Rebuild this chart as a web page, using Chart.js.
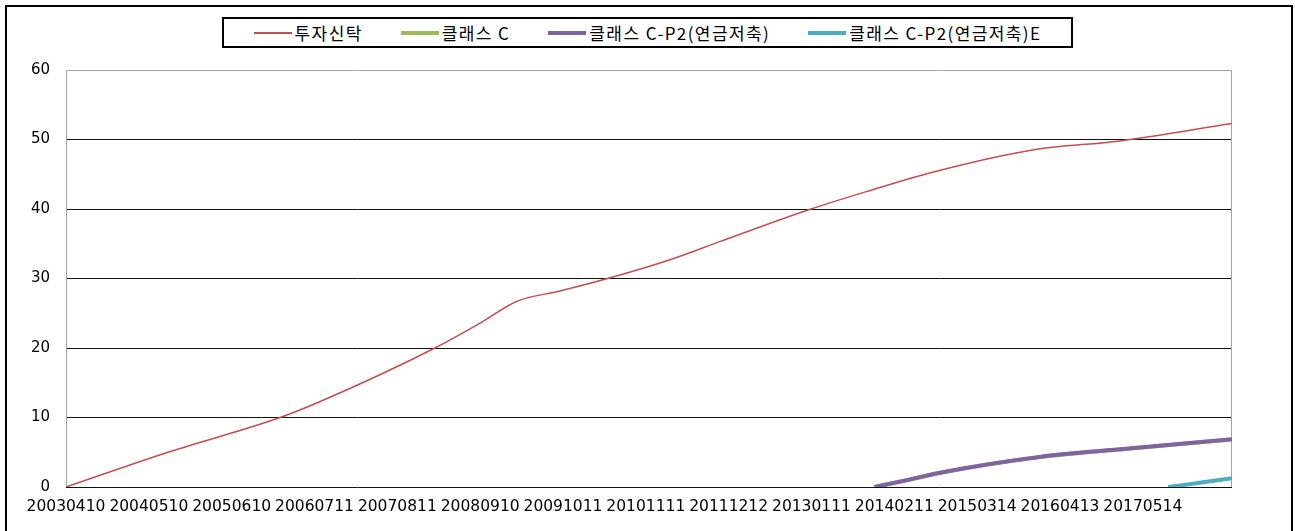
<!DOCTYPE html>
<html>
<head>
<meta charset="utf-8">
<script src="https://cdn.jsdelivr.net/npm/chart.js@4.4.1/dist/chart.umd.min.js"></script>
<style>
  html, body { margin: 0; padding: 0; background: #fff; overflow: hidden; }
  #wrap { position: relative; width: 1295px; height: 531px; }
  #frame { position: absolute; left: 5px; top: 5px; width: 1284px; height: 560px; border: 2px solid #000; }
  #chart { position: absolute; left: 0; top: 0; }
  #legend {
    position: absolute; left: 222px; top: 17px; width: 847px; height: 27px;
    border: 2px solid #000; background: #fff;
    display: flex; justify-content: center; align-items: center; gap: 38px;
    font: 17px "Noto Sans CJK KR", sans-serif; letter-spacing: 1.4px; color: #000;
  }
  .item { display: flex; align-items: center; white-space: pre; }
  .swatch { width: 38px; margin-right: 3px; }
</style>
</head>
<body>
<div id="wrap">
  <div id="frame"></div>
  <canvas id="chart" width="1295" height="531"></canvas>
  <div id="legend"></div>
</div>
<script>
// x = months since 2003-04, y = value
const seriesNames = ["투자신탁", "클래스 C", "클래스 C-P2(연금저축)", "클래스 C-P2(연금저축)E"];
const seriesColors = ["#C0504D", "#9BBB59", "#8064A2", "#4BACC6"];

const tickPos = [0, 13, 26, 39, 52, 65, 78, 91, 104, 117, 130, 143, 156, 169];
const tickLabels = ["20030410", "20040510", "20050610", "20060711", "20070811", "20080910", "20091011",
  "20101111", "20111212", "20130111", "20140211", "20150314", "20160413", "20170514"];

const trustX = [0, 16, 33.6, 39.9, 57.9, 65.4, 70.7, 77.5, 85, 94.8, 102.6, 116.9, 125.6, 136, 151.7, 165.4, 183];
const trustY = [0, 5.0, 10, 12.3, 20, 23.8, 26.7, 28.2, 30, 32.7, 35.3, 40, 42.5, 45.3, 48.5, 49.8, 52.3];

const classCX = [126.9, 131.9, 137.1, 152.8, 168.5, 183];
const classCY = [0, 0.95, 2.0, 4.3, 5.65, 6.85];

const pensionX = [126.9, 131.9, 137.1, 152.8, 168.5, 183];
const pensionY = [0, 0.97, 2.06, 4.33, 5.67, 6.88];

const pensionEX = [173, 177.9, 183];
const pensionEY = [0, 0.6, 1.25];

function pts(xs, ys) {
  return xs.map((x, i) => ({ x: x, y: ys[i] }));
}

// gray border on left/top/right of plot area
const plotBorder = {
  id: "plotBorder",
  beforeDatasetsDraw(chart) {
    const { ctx, chartArea: a } = chart;
    ctx.save();
    ctx.strokeStyle = "#a6a6a6";
    ctx.lineWidth = 1;
    ctx.beginPath();
    ctx.moveTo(a.left + 0.5, a.bottom);
    ctx.lineTo(a.left + 0.5, a.top + 0.5);
    ctx.lineTo(a.right - 0.5, a.top + 0.5);
    ctx.lineTo(a.right - 0.5, a.bottom);
    ctx.stroke();
    ctx.restore();
  }
};

const chart = new Chart(document.getElementById("chart"), {
  type: "line",
  data: {
    datasets: [
      { label: seriesNames[0], data: pts(trustX, trustY), borderColor: seriesColors[0], borderWidth: 1.5, order: 3 },
      { label: seriesNames[1], data: pts(classCX, classCY), borderColor: seriesColors[1], borderWidth: 4, order: 2 },
      { label: seriesNames[2], data: pts(pensionX, pensionY), borderColor: seriesColors[2], borderWidth: 4, order: 1 },
      { label: seriesNames[3], data: pts(pensionEX, pensionEY), borderColor: seriesColors[3], borderWidth: 4, order: 0 }
    ]
  },
  options: {
    responsive: false,
    animation: false,
    layout: { padding: { left: 0, top: 70, right: 63, bottom: 0 } },
    elements: {
      point: { radius: 0 },
      line: { cubicInterpolationMode: "monotone", borderCapStyle: "butt" }
    },
    plugins: { legend: { display: false }, tooltip: { enabled: false } },
    scales: {
      x: {
        type: "linear",
        min: 0,
        max: 183,
        afterBuildTicks: s => { s.ticks = tickPos.map(v => ({ value: v })); },
        afterFit: s => { s.height = 44; },
        grid: { display: false, drawTicks: false },
        border: { display: false },
        ticks: {
          autoSkip: false,
          maxRotation: 0,
          padding: 11,
          color: "#000",
          font: { family: "DejaVu Sans", size: 15.5 },
          callback: v => tickLabels[tickPos.indexOf(v)] || ""
        }
      },
      y: {
        min: 0,
        max: 60,
        afterFit: s => { s.width = 66; },
        border: { display: false },
        grid: {
          drawTicks: false,
          color: c => (c.tick && c.tick.value === 60 ? "rgba(0,0,0,0)" : "#111"),
          lineWidth: 1
        },
        ticks: {
          stepSize: 10,
          padding: 16,
          color: "#000",
          font: { family: "DejaVu Sans", size: 15 }
        }
      }
    }
  },
  plugins: [plotBorder]
});

// legend box
const legend = document.getElementById("legend");
chart.data.datasets.forEach((ds, i) => {
  const item = document.createElement("div");
  item.className = "item";
  const sw = document.createElement("div");
  sw.className = "swatch";
  sw.style.borderTop = (i === 0 ? 2 : 4) + "px solid " + seriesColors[i];
  const txt = document.createElement("span");
  txt.textContent = ds.label;
  item.appendChild(sw);
  item.appendChild(txt);
  legend.appendChild(item);
});
</script>
</body>
</html>
